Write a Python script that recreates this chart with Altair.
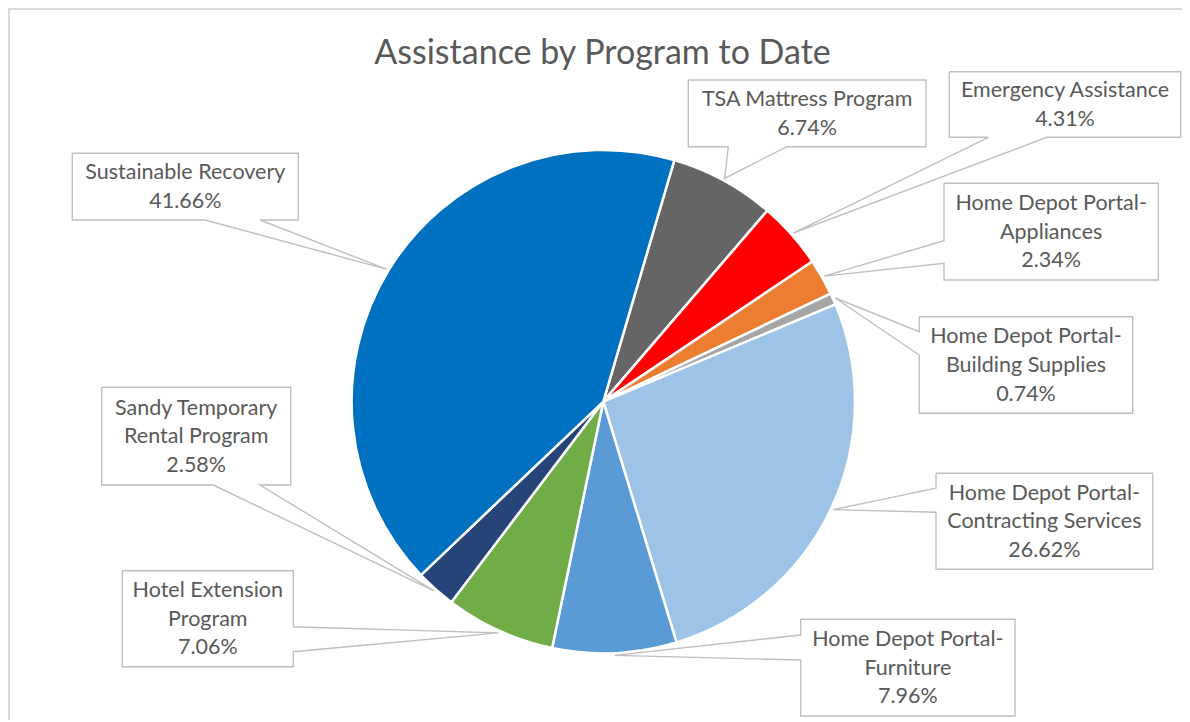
import math
import altair as alt
import pandas as pd

# ---------------- data ----------------
programs = [
    "TSA Mattress Program",
    "Emergency Assistance",
    "Home Depot Portal-Appliances",
    "Home Depot Portal-Building Supplies",
    "Home Depot Portal-Contracting Services",
    "Home Depot Portal-Furniture",
    "Hotel Extension Program",
    "Sandy Temporary Rental Program",
    "Sustainable Recovery",
]
shares = [6.74, 4.31, 2.34, 0.74, 26.62, 7.96, 7.06, 2.58, 41.66]
label_lines = [
    ["TSA Mattress Program"],
    ["Emergency Assistance"],
    ["Home Depot Portal-", "Appliances"],
    ["Home Depot Portal-", "Building Supplies"],
    ["Home Depot Portal-", "Contracting Services"],
    ["Home Depot Portal-", "Furniture"],
    ["Hotel Extension", "Program"],
    ["Sandy Temporary", "Rental Program"],
    ["Sustainable Recovery"],
]
colors = ["#656565", "#FF0000", "#ED7D31", "#A5A5A5", "#9DC3E6",
          "#5B9BD5", "#70AD47", "#264478", "#0070C0"]
title_text = "Assistance by Program to Date"

# ---------------- layout (pixels) ----------------
OFF = 8.0                       # page margin
CX, CY, R = 603.3 - OFF, 401.6 - OFF, 251.7
TIP_R = 254.0
START_DEG = 16.4                # first slice angle
LINE_H = 28.6
FONT_SIZE = 21.5
# callout boxes: x1, y1, x2, y2 (page px), side of pointer, pointer base a, b
box_x1 = [688.3, 949.3, 944.0, 919.3, 936.0, 800.7, 122.3, 101.7, 72.3]
box_y1 = [80.0, 71.7, 183.3, 316.7, 473.3, 619.3, 570.7, 387.3, 153.3]
box_x2 = [926.0, 1180.7, 1158.3, 1132.7, 1152.7, 1015.0, 293.3, 290.7, 298.3]
box_y2 = [146.7, 137.3, 280.0, 413.3, 569.3, 716.0, 666.7, 485.0, 220.0]
ptr_side = ["bottom", "bottom", "left", "left", "left", "left", "right", "bottom", "bottom"]
ptr_a = [728.3, 988.3, 240.7, 331.7, 488.3, 635.0, 626.7, 213.3, 205.0]
ptr_b = [786.7, 1046.7, 263.3, 355.0, 512.3, 660.0, 651.7, 260.0, 260.0]

W, H = 1174, 712

# ---------------- tables ----------------
pie_df = pd.DataFrame({"program": programs, "share": shares,
                       "idx": list(range(len(programs)))})

total = sum(shares)
outline_rows, text_rows = [], []
cum = 0.0
for i, p in enumerate(programs):
    mid = math.radians(START_DEG + (cum + shares[i] / 2) / total * 360.0)
    cum += shares[i]
    tx = CX + TIP_R * math.sin(mid)
    ty = CY - TIP_R * math.cos(mid)
    x1, y1 = box_x1[i] - OFF, box_y1[i] - OFF
    x2, y2 = box_x2[i] - OFF, box_y2[i] - OFF
    a, b = ptr_a[i] - OFF, ptr_b[i] - OFF
    if ptr_side[i] == "bottom":
        pts = [(x1, y1), (x2, y1), (x2, y2), (b, y2), (tx, ty), (a, y2), (x1, y2), (x1, y1)]
    elif ptr_side[i] == "left":
        pts = [(x1, y1), (x2, y1), (x2, y2), (x1, y2), (x1, b), (tx, ty), (x1, a), (x1, y1)]
    else:  # right
        pts = [(x1, y1), (x2, y1), (x2, a), (tx, ty), (x2, b), (x2, y2), (x1, y2), (x1, y1)]
    for k, (px, py) in enumerate(pts):
        outline_rows.append({"program": p, "pt": k, "px": px, "py": py})
    lines = label_lines[i] + [f"{shares[i]:.2f}%"]
    text_rows.append({
        "program": p,
        "cx": (x1 + x2) / 2,
        "cy": (y1 + y2) / 2 - (len(lines) - 1) * LINE_H / 2 + 1,
        "label": "\n".join(lines),
    })

outline_df = pd.DataFrame(outline_rows)
text_df = pd.DataFrame(text_rows)
title_df = pd.DataFrame({"title": [title_text]})

# ---------------- marks ----------------
pie = alt.Chart(pie_df).mark_arc(
    radius=R, stroke="white", strokeWidth=2.5
).encode(
    theta=alt.Theta("share:Q", stack=True,
                    scale=alt.Scale(range=[math.radians(START_DEG),
                                           math.radians(START_DEG) + 2 * math.pi])),
    color=alt.Color("program:N", scale=alt.Scale(domain=programs, range=colors), legend=None),
    order=alt.Order("idx:Q"),
    x=alt.value(CX),
    y=alt.value(CY),
)

callouts = alt.Chart(outline_df).mark_line(
    color="#BFBFBF", strokeWidth=1.4, strokeJoin="miter"
).encode(
    x=alt.X("px:Q", scale=None, axis=None),
    y=alt.Y("py:Q", scale=None, axis=None),
    detail="program:N",
    order="pt:Q",
)

labels = alt.Chart(text_df).mark_text(
    font="Lato", fontSize=FONT_SIZE, color="#595959", lineBreak="\n",
    lineHeight=LINE_H, align="center", baseline="middle"
).encode(
    x=alt.X("cx:Q", scale=None, axis=None),
    y=alt.Y("cy:Q", scale=None, axis=None),
    text="label:N",
)

title = alt.Chart(title_df).mark_text(
    font="Lato", fontSize=34, color="#595959", align="center", baseline="alphabetic"
).encode(
    x=alt.value(602.5 - OFF),
    y=alt.value(64.0 - OFF),
    text="title:N",
)

border_top = alt.Chart(pie_df).mark_rule(color="#D9D9D9", strokeWidth=1.5).encode(
    x=alt.value(0), x2=alt.value(W), y=alt.value(1.2)
)
border_left = alt.Chart(pie_df).mark_rule(color="#D9D9D9", strokeWidth=1.5).encode(
    x=alt.value(0.8), y=alt.value(0), y2=alt.value(H)
)

chart = alt.layer(border_top, border_left, pie, callouts, labels, title).properties(
    width=W, height=H,
    padding=0,
    autosize=alt.AutoSizeParams(type="none"),
).configure_view(stroke=None)

chart.save("out.html", embed_options={"renderer": "svg", "actions": False})
